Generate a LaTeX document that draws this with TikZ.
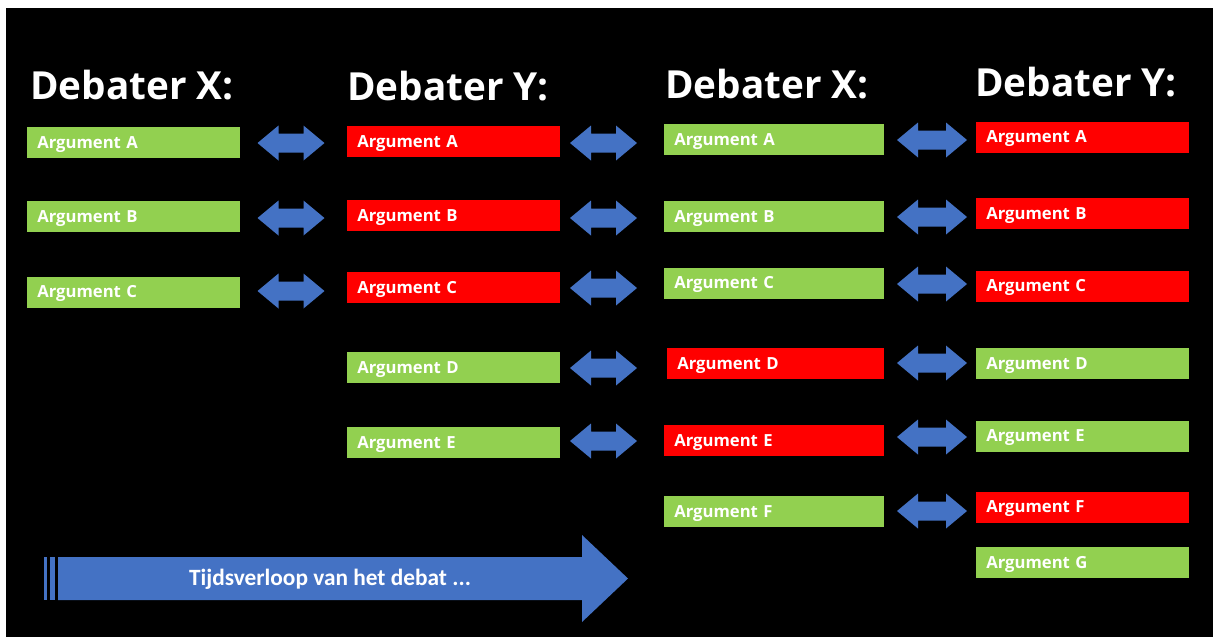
\documentclass[tikz,border=0pt]{standalone}
\usepackage{fontspec}
\setmainfont{Open Sans}
\newfontfamily\arrowfont{Carlito}
\definecolor{boxgreen}{HTML}{92D050}
\definecolor{boxred}{HTML}{FF0000}
\definecolor{arrowblue}{HTML}{4472C4}
\tikzset{
  argbox/.style={anchor=west, minimum height=23.25pt, inner xsep=7.5pt, inner ysep=0pt,
    text height=8.9pt, text depth=0pt,
    text=white, font=\bfseries\fontsize{12.5}{14}\selectfont, align=left},
  gbox/.style={argbox, fill=boxgreen},
  rbox/.style={argbox, fill=boxred},
  wA/.style={text width=144.75pt},
  wB/.style={text width=150pt},
  wC/.style={text width=147.75pt},
  header/.style={anchor=base west, inner sep=0pt, text=white, font=\bfseries\fontsize{29}{32}\selectfont},
  dbl/.pic={\fill[arrowblue] (-#1,0) -- (-#1+21,-17.5) -- (-#1+21,-9.5) -- (#1-21,-9.5) -- (#1-21,-17.5) -- (#1,0)
     -- (#1-21,17.5) -- (#1-21,9.5) -- (-#1+21,9.5) -- (-#1+21,17.5) -- cycle;},
}
\begin{document}
\begin{tikzpicture}[x=0.75pt,y=-0.75pt]
\fill[white] (0,0) rectangle (1213,637);
\fill[black] (6,8) rectangle (1213,637);
\useasboundingbox (0,0) rectangle (1213,637);

% headers
\node[header] (h1) at (30,99) {Debater X:};
\node[header] (h2) at (347,100) {Debater Y:};
\node[header] (h3) at (665,98) {Debater X:};
\node[header] (h4) at (975,96) {Debater Y:};

% column 1
\node[gbox,wA] (c1a) at (27,142.5) {Argument A};
\node[gbox,wA] (c1b) at (27,216.5) {Argument B};
\node[gbox,wA] (c1c) at (27,292) {Argument C};

% column 2
\node[rbox,wA] (c2a) at (347,141.5) {Argument A};
\node[rbox,wA] (c2b) at (347,215.5) {Argument B};
\node[rbox,wA] (c2c) at (347,287.5) {Argument C};
\node[gbox,wA] (c2d) at (347,367.5) {Argument D};
\node[gbox,wA] (c2e) at (347,442.5) {Argument E};

% column 3
\node[gbox,wB] (c3a) at (664,139.5) {Argument A};
\node[gbox,wB] (c3b) at (664,216.5) {Argument B};
\node[gbox,wB] (c3c) at (664,283) {Argument C};
\node[rbox,wC] (c3d) at (667,363.5) {Argument D};
\node[rbox,wB] (c3e) at (664,440.5) {Argument E};
\node[gbox,wB] (c3f) at (664,511.5) {Argument F};

% column 4
\node[rbox,wA] (c4a) at (976,137) {Argument A};
\node[rbox,wA] (c4b) at (976,213.5) {Argument B};
\node[rbox,wA] (c4c) at (976,286) {Argument C};
\node[gbox,wA] (c4d) at (976,363.5) {Argument D};
\node[gbox,wA] (c4e) at (976,436) {Argument E};
\node[rbox,wA] (c4f) at (976,507) {Argument F};
\node[gbox,wA] (c4g) at (976,562.5) {Argument G};

% double arrows
\pic at (291,143) {dbl=33.5};
\pic at (291,218) {dbl=33.5};
\pic at (291,291) {dbl=33.5};
\pic at (603.5,143) {dbl=33.5};
\pic at (603.5,218) {dbl=33.5};
\pic at (603.5,288) {dbl=33.5};
\pic at (603.5,368) {dbl=33.5};
\pic at (603.5,441) {dbl=33.5};
\pic at (932,140) {dbl=35};
\pic at (932,217) {dbl=35};
\pic at (932,284) {dbl=35};
\pic at (932,363) {dbl=35};
\pic at (932,437) {dbl=35};
\pic at (932,511) {dbl=35};

% timeline arrow
\fill[arrowblue] (44,557) rectangle (47,600);
\fill[arrowblue] (50,557) rectangle (55,600);
\fill[arrowblue] (58,557) -- (582,557) -- (582,535) -- (628,578.5) -- (582,622) -- (582,600) -- (58,600) -- cycle;
\node[text=white, font=\arrowfont\bfseries\fontsize{17.5}{20}\selectfont, inner sep=0pt] (tl) at (330,579) {Tijdsverloop van het debat ...};
\end{tikzpicture}
\end{document}
